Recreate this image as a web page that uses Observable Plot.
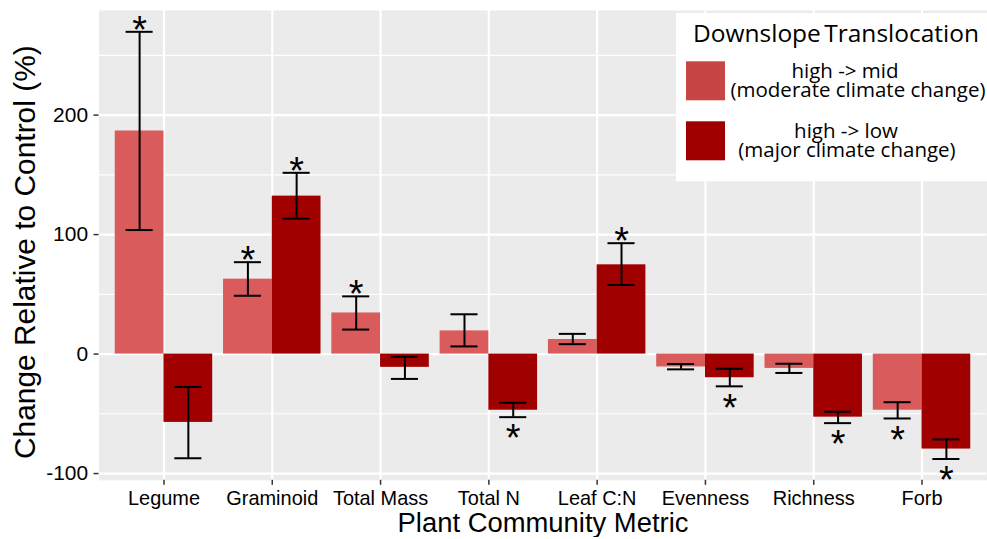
<!DOCTYPE html>
<html>
<head>
<meta charset="utf-8">
<script src="https://cdn.jsdelivr.net/npm/d3@7"></script>
<script src="https://cdn.jsdelivr.net/npm/@observablehq/plot@0.6"></script>
<style>
  html, body { margin: 0; padding: 0; background: #fff; overflow: hidden; }
  #wrap { position: relative; width: 987px; height: 539px; overflow: hidden; }
  #wrap > svg { position: absolute; left: 0; top: 0; }
</style>
</head>
<body>
<div id="wrap"></div>
<script>
// ---- data ----
const categories = ["Legume", "Graminoid", "Total Mass", "Total N", "Leaf C:N", "Evenness", "Richness", "Forb"];
const seriesKeys = ["high -> mid", "high -> low"];
const seriesLabels = [["high -> mid", "(moderate climate change)"], ["high -> low", "(major climate change)"]];
const legendTitle = "Downslope Translocation";
const xTitle = "Plant Community Metric";
const yTitle = "Change Relative to Control (%)";

const midValues = [186.7, 62.7, 34.4, 19.4, 12.2, -10.8, -12.0, -47.0];
const midLower  = [103.8, 48.8, 20.5, 6.4, 8.3, -12.8, -15.8, -53.9];
const midUpper  = [269.7, 76.9, 48.3, 33.3, 16.9, -8.3, -8.1, -40.3];
const midSig    = [true, true, true, false, false, false, false, true];

const lowValues = [-57.2, 132.2, -11.1, -47.0, 74.7, -19.8, -52.8, -79.5];
const lowLower  = [-87.2, 113.3, -20.8, -52.8, 57.8, -27.0, -57.8, -87.8];
const lowUpper  = [-27.5, 151.7, -2.3, -40.8, 92.8, -12.3, -48.3, -71.4];
const lowSig    = [false, true, false, true, true, true, true, true];

const yTicks = [-100, 0, 100, 200];
const yMinorTicks = [-50, 50, 150, 250];

const barColors = ["#D95B5B", "#A00000"];
const keyColors = ["#C74545", "#A00000"];

// ---- build table ----
const dodge = 0.9, barW = dodge / 2, capW = 0.25;
const seriesData = [
  {values: midValues, lo: midLower, hi: midUpper, sig: midSig},
  {values: lowValues, lo: lowLower, hi: lowUpper, sig: lowSig}
];
const rows = [];
categories.forEach((c, i) => {
  seriesData.forEach((s, j) => {
    const pos = (i + 1) + (j - 0.5) * barW;
    rows.push({cat: c, series: seriesKeys[j], pos, value: s.values[i], lo: s.lo[i], hi: s.hi[i], sig: s.sig[i]});
  });
});
const catPos = categories.map((c, i) => i + 1);

const yMin = d3.min(rows, d => Math.min(d.lo, d.value, 0));
const yMax = d3.max(rows, d => Math.max(d.hi, d.value, 0));
const ySpan = yMax - yMin;

const W = 990, H = 539;
const starSize = 38;

const chart = Plot.plot({
  width: W,
  height: H,
  marginLeft: 98.8,
  marginRight: W - 989.5,
  marginTop: 10,
  marginBottom: 57.7,
  style: {fontFamily: "'Liberation Sans', Arial, sans-serif", background: "transparent", color: "black"},
  x: {type: "linear", domain: [0.4, categories.length + 0.6]},
  y: {domain: [yMin - 0.05 * ySpan, yMax + 0.05 * ySpan]},
  color: {domain: seriesKeys, range: barColors},
  marks: [
    Plot.frame({fill: "#EBEBEB", stroke: null}),
    Plot.ruleY(yMinorTicks, {stroke: "white", strokeWidth: 1.1}),
    Plot.ruleY(yTicks, {stroke: "white", strokeWidth: 2.2}),
    Plot.ruleX(catPos, {stroke: "white", strokeWidth: 2.2}),
    Plot.rectY(rows, {x1: d => d.pos - barW / 2, x2: d => d.pos + barW / 2, y1: 0, y2: "value", fill: "series"}),
    Plot.ruleX(rows, {x: "pos", y1: "lo", y2: "hi", stroke: "black", strokeWidth: 2}),
    Plot.ruleY(rows, {y: "hi", x1: d => d.pos - capW / 2, x2: d => d.pos + capW / 2, stroke: "black", strokeWidth: 2}),
    Plot.ruleY(rows, {y: "lo", x1: d => d.pos - capW / 2, x2: d => d.pos + capW / 2, stroke: "black", strokeWidth: 2}),
    Plot.text(rows.filter(d => d.sig && d.value >= 0), {x: "pos", y: "hi", text: () => "*", lineAnchor: "bottom", dy: -11 + 0.573 * starSize, fontSize: starSize, fill: "black"}),
    Plot.text(rows.filter(d => d.sig && d.value < 0), {x: "pos", y: "lo", text: () => "*", lineAnchor: "bottom", dy: 12.5 + 0.573 * starSize, fontSize: starSize, fill: "black"}),
    Plot.axisY({ticks: yTicks, tickFormat: d => String(d), tickSize: 5, tickPadding: 6, fontSize: 21, stroke: "#333", fill: "black", strokeWidth: 1.5, label: null}),
    Plot.axisX({ticks: catPos, tickFormat: i => categories[i - 1], tickSize: 5, tickPadding: 5.2, fontSize: 20, stroke: "#333", fill: "black", strokeWidth: 1.5, label: null}),
    Plot.text([xTitle], {frameAnchor: "bottom", lineAnchor: "bottom", dy: 52, fontSize: 27.5, fill: "black"}),
    Plot.text([yTitle], {frameAnchor: "left", textAnchor: "middle", rotate: -90, lineAnchor: "bottom", dx: -63.8, dy: 6.8, fontSize: 30, fill: "black"})
  ]
});

const wrap = document.getElementById("wrap");
wrap.appendChild(chart);

// ---- legend (inside the panel, top right) ----
const lg = d3.create("svg")
  .attr("width", 320).attr("height", 169)
  .style("position", "absolute").style("left", "676px").style("top", "12.7px")
  .style("font-family", "'Open Sans', sans-serif");
lg.append("rect").attr("width", 320).attr("height", 168.3).attr("fill", "white");
lg.append("text").attr("x", 17).attr("y", 29.3).attr("font-size", 24.5).attr("fill", "black")
  .attr("word-spacing", -3).text(legendTitle);
const lineCenters = [[169, 182], [170, 171]];
seriesKeys.forEach((k, j) => {
  const top = 48.3 + j * 60;
  lg.append("rect").attr("x", 10).attr("y", top).attr("width", 39).attr("height", 39).attr("fill", keyColors[j]);
  const t = lg.append("text").attr("y", top + 16.3).attr("text-anchor", "middle")
    .attr("font-size", 20.5).attr("fill", "black");
  seriesLabels[j].forEach((line, li) => {
    t.append("tspan").attr("x", lineCenters[j][li]).attr("dy", li === 0 ? 0 : 19.4).text(line);
  });
});
wrap.appendChild(lg.node());
</script>
</body>
</html>
